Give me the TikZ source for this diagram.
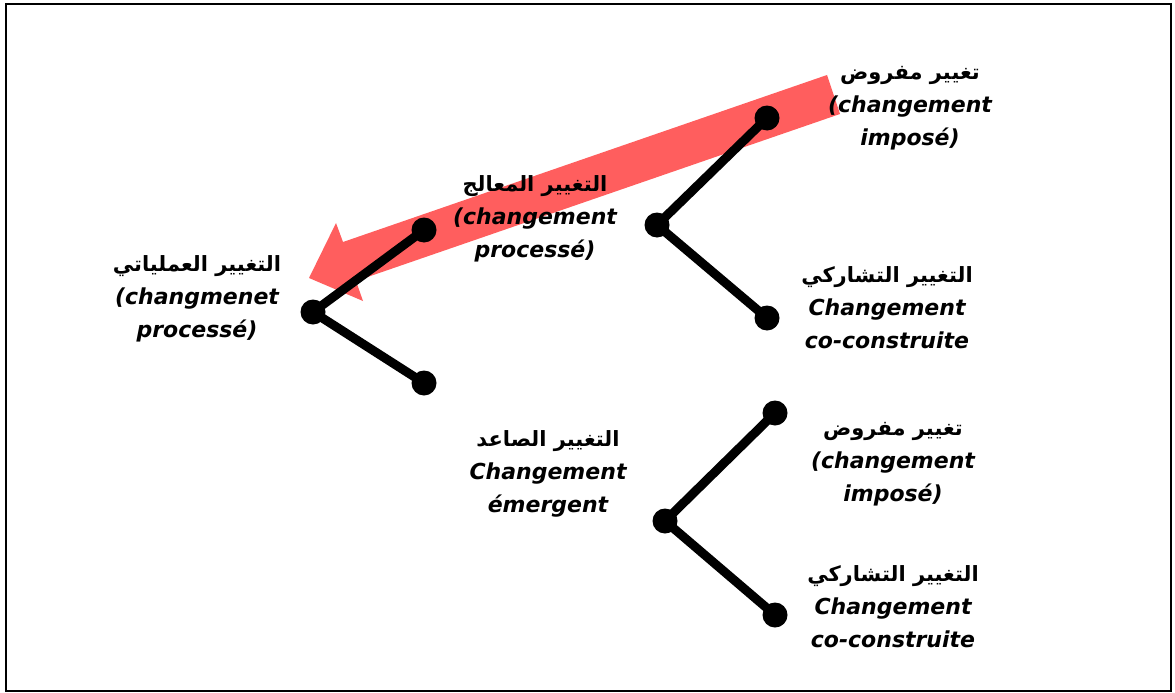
\documentclass[tikz,border=0pt]{standalone}
\usepackage{fontspec}
\TeXXeTstate=1
\setmainfont{DejaVu Sans}
\newfontfamily\arabicfont[Script=Arabic]{DejaVu Sans}
\newcommand\artext[1]{{\arabicfont\bfseries\fontsize{21}{33}\selectfont\beginR #1\endR}}
\newcommand\frtext[1]{{\bfseries\itshape #1}}
\definecolor{arrowred}{RGB}{255,94,94}
\tikzset{
  dotnode/.style={circle, fill=black, minimum size=25pt, inner sep=0pt},
  branch/.style={line width=9pt},
  lbl/.style={align=center, inner sep=0pt, font=\fontsize{22}{33}\selectfont},
}
\begin{document}
\begin{tikzpicture}[x=1pt,y=-1pt]
\useasboundingbox (0,0) rectangle (1175,693);
\draw[line width=2pt] (6,4) rectangle (1171,691);

% broad arrow running from the upper right towards the left branch
\fill[arrowred] (827,75) -- (343,242) -- (336,223) -- (309,278) -- (363,301) -- (356,281) -- (840,114) -- cycle;

% branch points
\node[dotnode] (A) at (313,312) {};
\node[dotnode] (B) at (424,230) {};
\node[dotnode] (C) at (424,383) {};
\node[dotnode] (D) at (657,225) {};
\node[dotnode] (E) at (767,118) {};
\node[dotnode] (F) at (767,318) {};
\node[dotnode] (G) at (665,521) {};
\node[dotnode] (H) at (775,413) {};
\node[dotnode] (I) at (775,615) {};

\draw[branch] (A.center) -- (B.center);
\draw[branch] (A.center) -- (C.center);
\draw[branch] (D.center) -- (E.center);
\draw[branch] (D.center) -- (F.center);
\draw[branch] (G.center) -- (H.center);
\draw[branch] (G.center) -- (I.center);

% labels
\node[lbl] (lE) at (910,108) {\artext{تغيير مفروض}\\\frtext{(changement}\\\frtext{imposé)}};
\node[lbl] (lB) at (535,219) {\artext{التغيير المعالج}\\\frtext{(changement}\\\frtext{processé)}};
\node[lbl] (lA) at (197,299) {\artext{التغيير العملياتي}\\\frtext{(changmenet}\\\frtext{processé)}};
\node[lbl] (lF) at (887,308) {\artext{التغيير التشاركي}\\\frtext{Changement}\\\frtext{co-construite}};
\node[lbl] (lG) at (548,474) {\artext{التغيير الصاعد}\\\frtext{Changement}\\\frtext{émergent}};
\node[lbl] (lH) at (893,464) {\artext{تغيير مفروض}\\\frtext{(changement}\\\frtext{imposé)}};
\node[lbl] (lI) at (893,607) {\artext{التغيير التشاركي}\\\frtext{Changement}\\\frtext{co-construite}};
\end{tikzpicture}
\end{document}
